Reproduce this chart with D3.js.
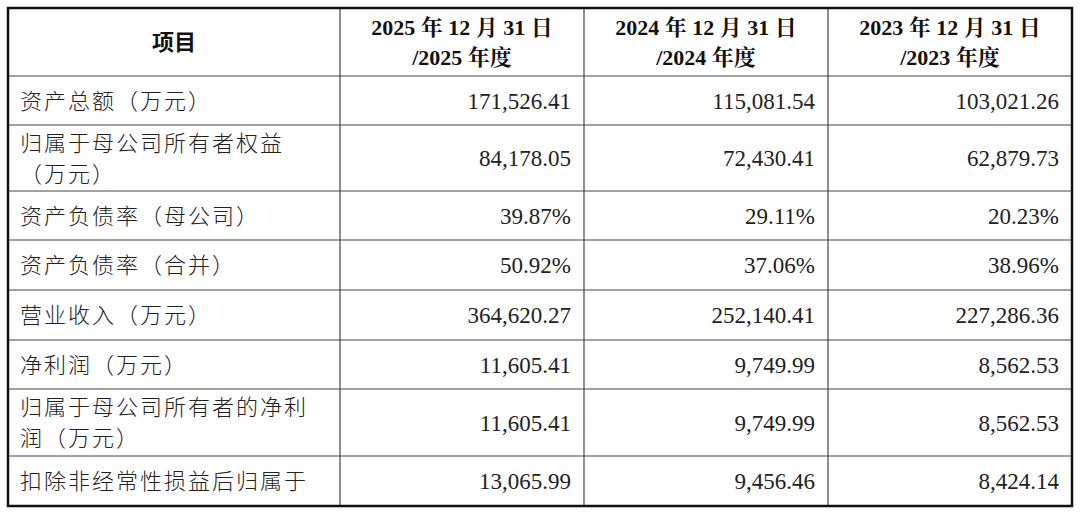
<!DOCTYPE html><html><head><meta charset="utf-8"><script src="https://cdn.jsdelivr.net/npm/d3@7"></script>
<style>body{margin:0;background:#fff}</style></head><body><svg id="c" width="1080" height="513"></svg>
<script>
const headers=[["项目"],["2025 年 12 月 31 日","/2025 年度"],["2024 年 12 月 31 日","/2024 年度"],["2023 年 12 月 31 日","/2023 年度"]];
const items=[["资产总额（万元）"],["归属于母公司所有者权益","（万元）"],["资产负债率（母公司）"],["资产负债率（合并）"],["营业收入（万元）"],["净利润（万元）"],["归属于母公司所有者的净利","润（万元）"],["扣除非经常性损益后归属于"]];
const v2025=["171,526.41","84,178.05","39.87%","50.92%","364,620.27","11,605.41","11,605.41","13,065.99"];
const v2024=["115,081.54","72,430.41","29.11%","37.06%","252,140.41","9,749.99","9,749.99","9,456.46"];
const v2023=["103,021.26","62,879.73","20.23%","38.96%","227,286.36","8,562.53","8,562.53","8,424.14"];
const colX=[8,340,584,828,1072];
const rowY=[8,76,125,191,240,290,340,389,456,506];
const svg=d3.select("#c");
const cjk="'Noto Sans CJK SC',sans-serif", serif="'Liberation Serif','Noto Serif CJK SC',serif";
// header
headers.forEach((h,i)=>{
  const cx=(colX[i]+colX[i+1])/2, my=(rowY[0]+rowY[1])/2;
  h.forEach((t,j)=>{
    svg.append("text").attr("x",cx).attr("y",my+(j-(h.length-1)/2)*30+8).attr("text-anchor","middle")
      .attr("font-family",i==0?cjk:serif).attr("font-weight","bold").attr("font-size",22).attr("fill","#111").text(t);
  });
});
const cols=[v2025,v2024,v2023];
items.forEach((it,r)=>{
  const y0=rowY[r+1],y1=rowY[r+2],my=(y0+y1)/2;
  it.forEach((t,j)=>{
    svg.append("text").attr("x",20).attr("y",my+(j-(it.length-1)/2)*31+8)
      .attr("font-family",cjk).attr("font-weight",300).attr("font-size",22).attr("letter-spacing",2).attr("fill","#222").text(t);
  });
  cols.forEach((c,k)=>{
    svg.append("text").attr("x",colX[k+2]-13).attr("y",my+8).attr("text-anchor","end")
      .attr("font-family",serif).attr("font-size",23).attr("fill","#222").text(c[r]);
  });
});
// grid lines
rowY.slice(1,-1).forEach(y=>svg.append("line").attr("x1",colX[0]).attr("x2",colX[4]).attr("y1",y).attr("y2",y).attr("stroke","#444").attr("stroke-width",1.2));
colX.slice(1,-1).forEach(x=>svg.append("line").attr("x1",x).attr("x2",x).attr("y1",rowY[0]).attr("y2",rowY[rowY.length-1]).attr("stroke","#444").attr("stroke-width",1.2));
svg.append("rect").attr("x",colX[0]).attr("y",rowY[0]).attr("width",colX[4]-colX[0]).attr("height",rowY[rowY.length-1]-rowY[0]).attr("fill","none").attr("stroke","#111").attr("stroke-width",2.5);
</script></body></html>
